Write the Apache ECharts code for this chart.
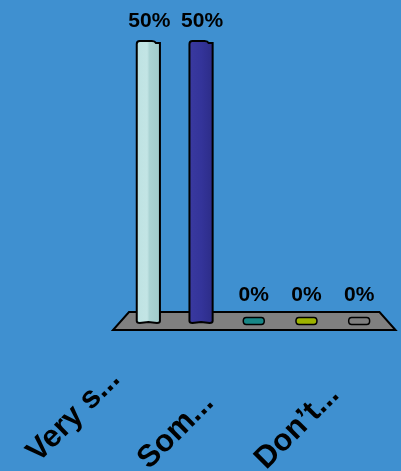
<!DOCTYPE html>
<html>
<head>
<meta charset="utf-8">
<script src="https://cdn.jsdelivr.net/npm/echarts@6/dist/echarts.min.js"></script>
<style>
html,body{margin:0;padding:0;background:#3f90d0;}
#chart{width:401px;height:471px;}
</style>
</head>
<body>
<div id="chart"></div>
<script>
// ---- data ----
var categories = ['Very s...', '', 'Som...', '', 'Don\u2019t...'];
var values = [50, 50, 0, 0, 0];
var valueLabels = ['50%', '50%', '0%', '0%', '0%'];

// ---- styles (not data) ----
var barFills = [
  {type:'linear',x:0,y:0,x2:1,y2:0,colorStops:[{offset:0,color:'#bde2e2'},{offset:0.45,color:'#c3e5e5'},{offset:0.55,color:'#aad3d3'},{offset:1,color:'#a0caca'}]},
  {type:'linear',x:0,y:0,x2:1,y2:0,colorStops:[{offset:0,color:'#3a3aa0'},{offset:0.5,color:'#34349a'},{offset:1,color:'#2c2c86'}]},
  '#178787', '#9db300', '#7f7f7f'
];
var FONT = 'Liberation Sans, Arial, sans-serif';
var labelStyle = function (pad) {
  return {fontFamily: FONT, fontWeight: 'bold', fontSize: 31, color: '#000', padding: pad};
};

var chart = echarts.init(document.getElementById('chart'), null, {renderer:'canvas'});

function floorItem(params, api) {
  var cs = params.coordSys;
  var by = cs.y + cs.height;
  return {
    type: 'polygon',
    shape: {points: [
      [cs.x + 7, by - 11], [cs.x + cs.width - 6, by - 11],
      [cs.x + cs.width + 10, by + 7], [cs.x - 9, by + 7]
    ]},
    style: {fill: '#808080', stroke: '#000', lineWidth: 2}
  };
}

function barItem(params, api) {
  var i = api.value(0), v = api.value(1);
  var top = api.coord([i, v]);
  var base = api.coord([i, 0]);
  var w = api.size([1, 0])[0] * 0.44;
  var l = top[0] - w / 2, r = top[0] + w / 2;
  var children = [];
  if (v > 0) {
    var t = top[1], b = base[1];
    var path = 'M' + l + ',' + (t + 3) +
      ' Q' + l + ',' + t + ' ' + (l + 3) + ',' + t +
      ' L' + (r - 8) + ',' + t +
      ' Q' + (r - 5) + ',' + t + ' ' + (r - 4) + ',' + (t + 2) +
      ' L' + r + ',' + (t + 2) +
      ' L' + r + ',' + (b - 2) +
      ' Q' + r + ',' + b + ' ' + (r - 3) + ',' + b +
      ' L' + (l + w / 2) + ',' + (b - 1) +
      ' L' + (l + 3) + ',' + b +
      ' Q' + l + ',' + b + ' ' + l + ',' + (b - 2) + ' Z';
    children.push({
      type: 'path',
      shape: {pathData: path},
      style: {fill: barFills[params.dataIndex], stroke: '#000', lineWidth: 2}
    });
    children.push({
      type: 'text',
      style: {text: valueLabels[params.dataIndex], x: top[0] + 1, y: t - 20,
        align: 'center', verticalAlign: 'middle', fill: '#000',
        font: 'bold 21px ' + FONT}
    });
  } else {
    var cx = base[0], cy = base[1] - 2;
    var hw = 10.5, hh = 3.5;
    var p = 'M' + (cx - hw + 3) + ',' + (cy - hh) +
      ' L' + (cx + hw - 3) + ',' + (cy - hh) +
      ' Q' + (cx + hw) + ',' + (cy - hh) + ' ' + (cx + hw) + ',' + cy +
      ' Q' + (cx + hw) + ',' + (cy + hh) + ' ' + (cx + hw - 3) + ',' + (cy + hh) +
      ' L' + (cx - hw + 3) + ',' + (cy + hh) +
      ' Q' + (cx - hw) + ',' + (cy + hh) + ' ' + (cx - hw) + ',' + cy +
      ' Q' + (cx - hw) + ',' + (cy - hh) + ' ' + (cx - hw + 3) + ',' + (cy - hh) + ' Z';
    children.push({
      type: 'path',
      shape: {pathData: p},
      style: {fill: barFills[params.dataIndex], stroke: '#000', lineWidth: 1.5}
    });
    children.push({
      type: 'text',
      style: {text: valueLabels[params.dataIndex], x: cx, y: base[1] - 27.5,
        align: 'center', verticalAlign: 'middle', fill: '#000',
        font: 'bold 21px ' + FONT}
    });
  }
  return {type: 'group', children: children};
}

chart.setOption({
  backgroundColor: '#3f90d0',
  animation: false,
  grid: {left: 122, right: 15.5, top: 41, bottom: 148, containLabel: false, outerBoundsMode: 'none'},
  xAxis: {
    type: 'category',
    data: categories,
    boundaryGap: true,
    axisLine: {show: false},
    axisTick: {show: false},
    axisLabel: {
      interval: 0,
      rotate: 45,
      margin: 38,
      color: '#000',
      formatter: function (val, idx) {
        if (!val) return '';
        return '{l' + idx + '|' + val + '}';
      },
      rich: {
        l0: labelStyle([0, 33, 28, 0]),
        l2: labelStyle([0, 58, 11, 0]),
        l4: labelStyle([6, 38, 0, 0])
      }
    }
  },
  yAxis: {type: 'value', min: 0, max: 50, show: false, splitLine: {show: false}},
  series: [
    {type: 'custom', renderItem: floorItem, data: [[0, 0]], z: 1, silent: true},
    {type: 'custom', renderItem: barItem, z: 2,
      data: values.map(function (v, i) { return [i, v]; })}
  ]
});
</script>
</body>
</html>
